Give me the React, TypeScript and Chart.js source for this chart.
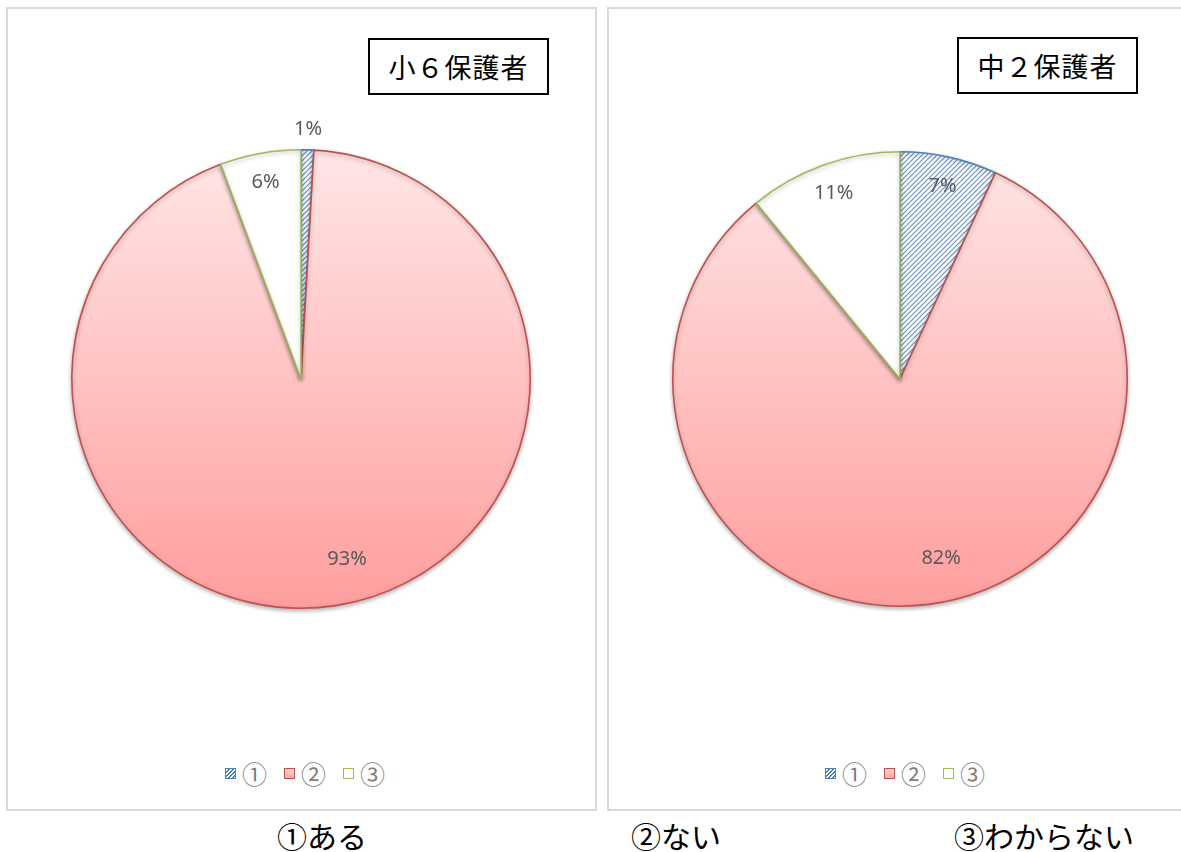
import React, { useEffect, useRef } from "react";
import { Chart, registerables } from "chart.js";

Chart.register(...registerables);

const categories = ["①", "②", "③"];
const grade6Values = [0.9, 93.4, 5.7];
const grade8Values = [6.9, 82.2, 10.9];
const panelTitles = ["小６保護者", "中２保護者"];
const footerLabels = ["①ある", "②ない", "③わからない"];

const BLUE = "#4F81BD";
const RED = "#C0504D";
const GREEN = "#9BBB59";
const LABEL_GRAY = "#595959";

function makeHatch(): CanvasPattern | string {
  const c = document.createElement("canvas");
  c.width = 5;
  c.height = 5;
  const g = c.getContext("2d");
  if (!g) return BLUE;
  g.fillStyle = "#ffffff";
  g.fillRect(0, 0, 5, 5);
  g.strokeStyle = "rgba(79,129,189,0.85)";
  g.lineWidth = 1.2;
  g.beginPath();
  g.moveTo(-1, 6);
  g.lineTo(6, -1);
  g.moveTo(-1, 1);
  g.lineTo(1, -1);
  g.moveTo(4, 6);
  g.lineTo(6, 4);
  g.stroke();
  const p = g.createPattern(c, "repeat");
  return p || BLUE;
}

const pctLabelPlugin = {
  id: "pctLabels",
  afterDatasetsDraw(chart: any) {
    const ctx = chart.ctx;
    const meta = chart.getDatasetMeta(0);
    const data = chart.data.datasets[0].data as number[];
    const total = data.reduce((a, b) => a + b, 0);
    ctx.save();
    ctx.font = "20px 'Noto Sans', 'Liberation Sans', sans-serif";
    ctx.fillStyle = LABEL_GRAY;
    ctx.textAlign = "center";
    ctx.textBaseline = "middle";
    meta.data.forEach((arc: any, i: number) => {
      const { x, y, startAngle, endAngle, outerRadius } = arc.getProps(
        ["x", "y", "startAngle", "endAngle", "outerRadius"],
        true
      );
      const pct = (data[i] / total) * 100;
      const mid = (startAngle + endAngle) / 2;
      const big = pct > 50;
      const r = pct < 3 ? outerRadius + 21 : big ? outerRadius * 0.81 : outerRadius * 0.87;
      const ang = big ? mid - 0.1 : mid;
      ctx.fillText(Math.round(pct) + "%", x + Math.cos(ang) * r, y + Math.sin(ang) * r);
    });
    ctx.restore();
  },
};

const shadowPlugin = {
  id: "pieShadow",
  beforeDatasetsDraw(chart: any) {
    const ctx = chart.ctx;
    ctx.save();
    ctx.shadowColor = "rgba(0,0,0,0.28)";
    ctx.shadowBlur = 4;
    ctx.shadowOffsetY = 2;
  },
  afterDatasetsDraw(chart: any) {
    chart.ctx.restore();
  },
};

function PieChart({ values, padding }: { values: number[]; padding: number }) {
  const ref = useRef<HTMLCanvasElement>(null);
  useEffect(() => {
    if (!ref.current) return;
    const hatch = makeHatch();
    const chart = new Chart(ref.current, {
      type: "pie",
      data: {
        labels: categories,
        datasets: [
          {
            data: values,
            backgroundColor: (c: any) => {
              if (c.dataIndex === 0) return hatch;
              if (c.dataIndex === 2) return "#ffffff";
              const area = c.chart.chartArea;
              if (!area) return "#FFC0C0";
              const g = c.chart.ctx.createLinearGradient(0, area.top, 0, area.bottom);
              g.addColorStop(0, "#FFE6E6");
              g.addColorStop(1, "#FF9E9E");
              return g;
            },
            borderColor: [BLUE, RED, GREEN],
            borderWidth: 1.6,
            borderAlign: "center",
          } as any,
        ],
      },
      options: {
        animation: false,
        responsive: false,
        maintainAspectRatio: false,
        layout: { padding },
        plugins: {
          legend: { display: false },
          tooltip: { enabled: false },
        },
      },
      plugins: [shadowPlugin, pctLabelPlugin],
    });
    return () => chart.destroy();
  }, [values, padding]);
  return <canvas ref={ref} width={562} height={562} style={{ width: 562, height: 562 }} />;
}

function Legend({ left }: { left: number }) {
  const boxes = [
    {
      background: `repeating-linear-gradient(135deg, #fff 0 1.5px, ${BLUE} 1.5px 3px)`,
      border: BLUE,
    },
    { background: "linear-gradient(#FFD6D6, #FFA5A5)", border: RED },
    { background: "#fff", border: GREEN },
  ];
  return (
    <div
      style={{
        position: "absolute",
        left,
        top: 758,
        width: 240,
        display: "flex",
        justifyContent: "center",
        alignItems: "center",
        gap: 17,
        fontFamily: "'Noto Sans CJK JP', sans-serif",
        color: "#7f7f7f",
        fontSize: 25,
        lineHeight: "30px",
      }}
    >
      {categories.map((c, i) => (
        <span key={c} style={{ display: "flex", alignItems: "center", gap: 6 }}>
          <span
            style={{
              display: "inline-block",
              width: 9,
              height: 9,
              border: `1.6px solid ${boxes[i].border}`,
              background: boxes[i].background,
            }}
          />
          <span>{c}</span>
        </span>
      ))}
    </div>
  );
}

function TitleBox({ text, left, top }: { text: string; left: number; top: number }) {
  return (
    <div
      style={{
        position: "absolute",
        left,
        top,
        width: 177,
        height: 53,
        border: "2px solid #000",
        background: "#fff",
        display: "flex",
        alignItems: "center",
        justifyContent: "center",
        fontFamily: "'Noto Sans CJK JP', sans-serif",
        fontSize: 27,
        color: "#000",
        letterSpacing: 1,
      }}
    >
      {text}
    </div>
  );
}

export default function App() {
  const panel: React.CSSProperties = {
    position: "absolute",
    top: 7,
    height: 800,
    border: "2px solid #d9d9d9",
    boxSizing: "content-box",
    background: "#fff",
  };
  const footer: React.CSSProperties = {
    position: "absolute",
    top: 814,
    fontFamily: "'Noto Sans CJK JP', sans-serif",
    fontSize: 30,
    color: "#000",
    lineHeight: "42px",
    whiteSpace: "nowrap",
    transform: "translateX(-50%)",
  };
  return (
    <div
      style={{
        position: "absolute",
        left: 0,
        top: 0,
        width: 1181,
        height: 852,
        background: "#fff",
        overflow: "hidden",
      }}
    >
      <div style={{ ...panel, left: 6, width: 587 }} />
      <div style={{ ...panel, left: 607, width: 600 }} />
      <div style={{ position: "absolute", left: 20, top: 98 }}>
        <PieChart values={grade6Values} padding={51} />
      </div>
      <div style={{ position: "absolute", left: 619, top: 98 }}>
        <PieChart values={grade8Values} padding={53} />
      </div>
      <TitleBox text={panelTitles[0]} left={368} top={38} />
      <TitleBox text={panelTitles[1]} left={957} top={37} />
      <Legend left={185} />
      <Legend left={785} />
      <div style={{ ...footer, left: 322 }}>{footerLabels[0]}</div>
      <div style={{ ...footer, left: 676 }}>{footerLabels[1]}</div>
      <div style={{ ...footer, left: 1044 }}>{footerLabels[2]}</div>
    </div>
  );
}
